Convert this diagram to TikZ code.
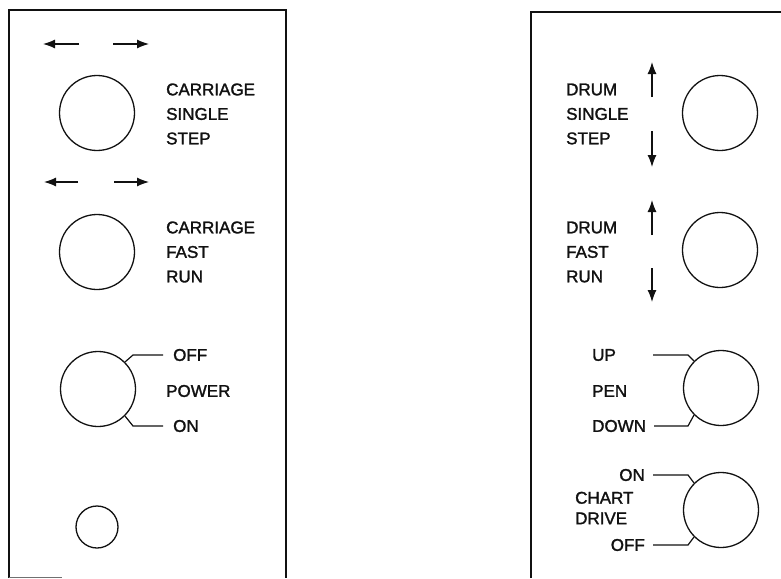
\documentclass[tikz,border=0pt]{standalone}
\usepackage{fontspec}
\setmainfont{Liberation Sans}
\newfontfamily\panelfont{Liberation Sans}[FakeBold=1.6]
\usepackage{tikz}
\usetikzlibrary{calc,positioning,arrows.meta}
\definecolor{InkBlack}{HTML}{111111}
\tikzset{
    knob/.style={circle, draw=InkBlack, line width=1.3pt, minimum size=75pt, inner sep=0pt},
    pilot/.style={circle, draw=InkBlack, line width=1.3pt, minimum size=42pt, inner sep=0pt},
    panelline/.style={draw=InkBlack, line width=1.8pt},
    lead/.style={draw=InkBlack, line width=1.2pt},
    jog/.style={draw=InkBlack, line width=1.2pt, -{Latex[length=12pt,width=9pt]}},
    caption/.style={text=InkBlack, inner sep=0pt, anchor=west, align=left,
        font=\panelfont\fontsize{17}{24.5}\selectfont}
}

\begin{document}
\begin{tikzpicture}[x=1pt, y=-1pt]
        \useasboundingbox (0,0) rectangle (781,578);

        \draw[panelline] (9,578) -- (9,10) -- (286,10) -- (286,578);
        \draw[draw=InkBlack!60, line width=0.6pt] (9,577) -- (62,577);
        \draw[panelline] (531,578) -- (531,12) -- (781,12);

        \node[knob] (cstep) at (97,113) {};
        \node[knob] (crun) at (97,252) {};
        \node[knob] (power) at (98,389) {};
        \node[pilot] (lamp) at (97,527) {};

        \node[caption] (cstepl) at (166,114) {CARRIAGE\\SINGLE\\STEP};
        \node[caption] (crunl) at (166,252) {CARRIAGE\\FAST\\RUN};
        \node[caption] (powerl) at (166,391) {POWER};
        \node[caption] (poff) at (173,355) {OFF};
        \node[caption] (pon) at (173,426) {ON};

        \draw[jog] (79,44) -- (43,44);
        \draw[jog] (113,44) -- (149,44);
        \draw[jog] (78,182) -- (44,182);
        \draw[jog] (114,182) -- (149,182);

        \draw[lead] ($(poff.west)+(-10,0)$) -- ++(-30,0) -- (power.45);
        \draw[lead] ($(pon.west)+(-10,0)$) -- ++(-30,0) -- (power.-45);

        \node[knob] (dstep) at (720,113) {};
        \node[knob] (drun) at (720,250) {};
        \node[knob] (pen) at (721,388) {};
        \node[knob] (chart) at (721,510) {};

        \node[caption] (dstepl) at (566,114) {DRUM\\SINGLE\\STEP};
        \node[caption] (drunl) at (566,252) {DRUM\\FAST\\RUN};
        \node[caption] (penl) at (592,391) {PEN};
        \node[caption] (pup) at (592,355) {UP};
        \node[caption] (pdown) at (592,426) {DOWN};
        \node[caption, font=\panelfont\fontsize{17}{20.5}\selectfont] (chartl) at (575,508) {CHART\\DRIVE};
        \node[caption, anchor=east] (con) at (645,475) {ON};
        \node[caption, anchor=east] (coff) at (645,545) {OFF};

        \draw[jog] (652,97) -- (652,62);
        \draw[jog] (652,131) -- (652,167);
        \draw[jog] (652,235) -- (652,200);
        \draw[jog] (652,268) -- (652,302);

        \draw[lead] (653,355) -- (688,355) -- (pen.135);
        \draw[lead] ($(pdown.east)+(8,0)$) -- (688,426) -- (pen.-135);
        \draw[lead] ($(con.east)+(8,0)$) -- (688,475) -- (chart.135);
        \draw[lead] ($(coff.east)+(8,0)$) -- (688,545) -- (chart.-135);
    \end{tikzpicture}
\end{document}
